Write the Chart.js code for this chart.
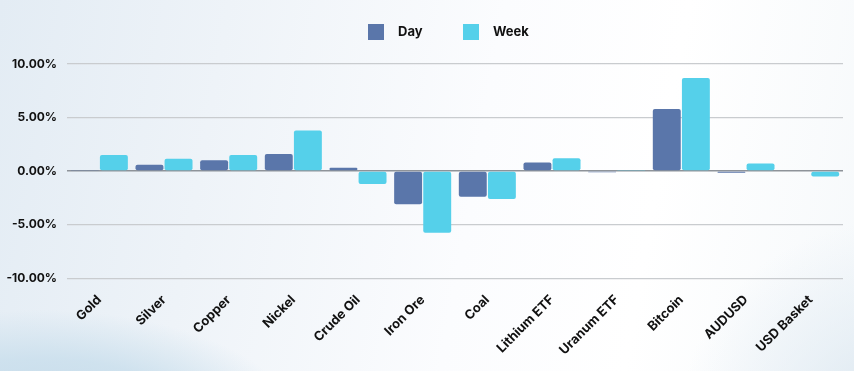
<!DOCTYPE html>
<html>
<head>
<meta charset="utf-8">
<script src="https://cdn.jsdelivr.net/npm/chart.js@4"></script>
<style>
html,body{margin:0;padding:0;width:854px;height:371px;overflow:hidden;}
body{
  background:
    radial-gradient(ellipse 260px 120px at 40px 430px, rgba(190,214,230,0.9) 0%, rgba(200,222,236,0.8) 60%, rgba(215,230,240,0) 100%),
    radial-gradient(ellipse 220px 200px at 900px 420px, rgba(215,228,238,0.9) 0%, rgba(225,235,243,0.6) 50%, rgba(240,245,250,0) 100%),
    linear-gradient(100deg, #e3ecf4 0%, #eef3f8 25%, #fbfcfe 55%, #ffffff 75%, #f6f9fb 100%);
}
canvas{display:block;}
</style>
</head>
<body>
<canvas id="c" width="854" height="371"></canvas>
<script>
const categories = ["Gold","Silver","Copper","Nickel","Crude Oil","Iron Ore","Coal","Lithium ETF","Uranum ETF","Bitcoin","AUDUSD","USD Basket"];
const dayValues  = [0.1, 0.6, 1.0, 1.6, 0.3, -3.1, -2.4, 0.8, -0.1, 5.8, -0.15, 0.07];
const weekValues = [1.5, 1.15, 1.5, 3.8, -1.2, -5.75, -2.6, 1.2, 0.05, 8.7, 0.7, -0.5];
const seriesNames = ["Day", "Week"];
const seriesColors = ["#5a76aa", "#55d0ea"];
const yTicks = [-10, -5, 0, 5, 10];

const FONT = "Inter, 'DejaVu Sans', sans-serif";

// simple custom legend above the plot, like the reference
const legendPlugin = {
  id: 'customLegend',
  afterDraw(chart) {
    const ctx = chart.ctx;
    const items = chart.data.datasets;
    ctx.save();
    ctx.font = "700 13px " + FONT;
    ctx.textBaseline = 'middle';
    ctx.textAlign = 'left';
    const box = 16, gapText = 14, itemStep = 95;
    const cx = (chart.chartArea.left + chart.chartArea.right) / 2;
    let x = cx - 87;
    const y = 24;
    items.forEach((d) => {
      ctx.fillStyle = d.backgroundColor;
      ctx.fillRect(x, y, box, box);
      ctx.fillStyle = '#111';
      ctx.fillText(d.label, x + box + gapText, y + box / 2 + 0.5);
      x += itemStep;
    });
    ctx.restore();
  }
};

new Chart(document.getElementById('c'), {
  type: 'bar',
  data: {
    labels: categories,
    datasets: [
      {label: seriesNames[0], data: dayValues, backgroundColor: seriesColors[0], borderRadius: 2, borderSkipped: false},
      {label: seriesNames[1], data: weekValues, backgroundColor: seriesColors[1], borderRadius: 2, borderSkipped: false}
    ]
  },
  options: {
    responsive: false,
    animation: false,
    layout: {padding: {left: 2, right: 11, top: 64, bottom: 7}},
    datasets: {bar: {categoryPercentage: 0.9, barPercentage: 0.96}},
    plugins: {
      tooltip: {enabled: false},
      legend: {display: false}
    },
    scales: {
      x: {
        grid: {display: false},
        border: {display: false},
        ticks: {
          color: '#111', maxRotation: 45, minRotation: 45, padding: 6,
          font: {family: FONT, size: 13, weight: '700'}
        }
      },
      y: {
        min: -10, max: 10,
        afterBuildTicks: (axis) => { axis.ticks = yTicks.map(v => ({value: v})); },
        afterFit: (axis) => { axis.width = 65; },
        border: {display: false},
        grid: {
          drawTicks: false,
          color: (ctx) => ctx.tick && ctx.tick.value === 0 ? '#8e9399' : '#c9cccf',
          lineWidth: (ctx) => ctx.tick && ctx.tick.value === 0 ? 1.5 : 1.2
        },
        ticks: {
          color: '#111', padding: 10,
          font: {family: FONT, size: 12, weight: '700'},
          callback: (v) => v.toFixed(2) + '%'
        }
      }
    }
  },
  plugins: [legendPlugin]
});
</script>
</body>
</html>
